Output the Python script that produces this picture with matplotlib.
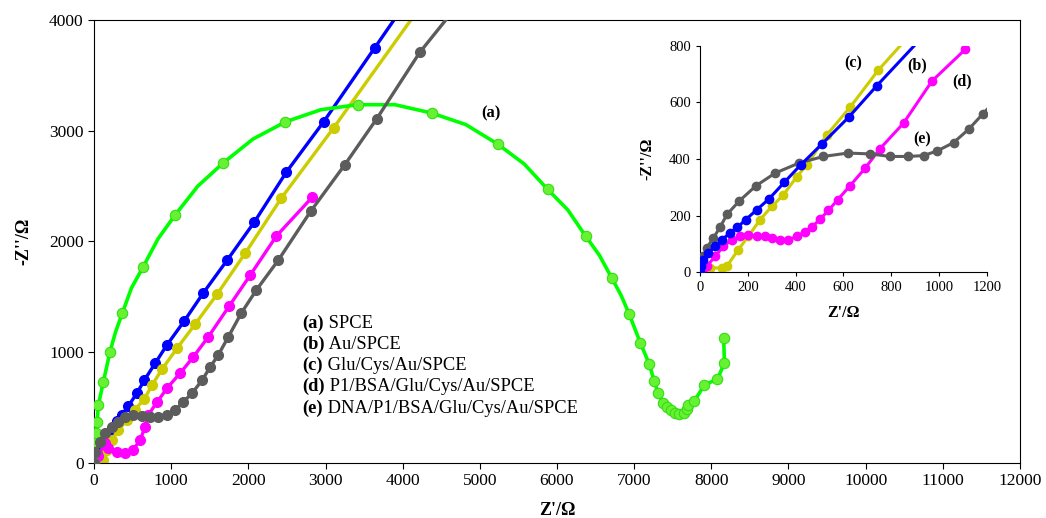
import matplotlib.pyplot as plt

plt.rcParams['font.family'] = ['Liberation Serif', 'DejaVu Serif']

# main plot data (Z' / Ohm, -Z'' / Ohm)
# (a) SPCE: marker points
a_x = [0, 5, 10, 20, 40, 55, 120, 205, 365, 636, 1052, 1675, 2480, 3415, 4375, 5230, 5880,
       6370, 6710, 6935, 7080, 7195, 7260, 7310, 7375, 7430, 7480, 7530, 7580, 7650, 7690,
       7700, 7780, 7910, 8080, 8170, 8160]
a_y = [0, 100, 180, 270, 370, 520, 730, 1000, 1350, 1770, 2240, 2710, 3080, 3235, 3160, 2880,
       2470, 2050, 1670, 1345, 1085, 895, 740, 632, 542, 505, 480, 452, 442, 452, 485,
       522, 560, 704, 758, 903, 1130]
# (a) SPCE: traced line, includes points read between the markers
a_line_x = [0, 5, 10, 20, 40, 55, 120, 205, 280, 365, 485, 636, 830, 1052, 1345, 1675, 2060,
            2480, 2940, 3415, 3900, 4375, 4820, 5230, 5575, 5880, 6140, 6370, 6550, 6710,
            6830, 6935, 7080, 7195, 7260, 7310, 7375, 7430, 7480, 7530, 7580, 7650, 7690,
            7700, 7780, 7910, 8080, 8170, 8160]
a_line_y = [0, 100, 180, 270, 370, 520, 730, 1000, 1185, 1350, 1580, 1770, 2025, 2240, 2500,
            2710, 2925, 3080, 3190, 3235, 3235, 3160, 3055, 2880, 2700, 2470, 2285, 2050,
            1875, 1670, 1515, 1345, 1085, 895, 740, 632, 542, 505, 480, 452, 442, 452, 485,
            522, 560, 704, 758, 903, 1130]

b_x = [0, 10, 30, 70, 120, 180, 240, 300, 360, 445, 555, 653, 792, 944, 1169, 1416, 1727,
       2078, 2494, 2974, 3636, 4026]
b_y = [0, 20, 60, 120, 190, 260, 320, 380, 433, 515, 629, 749, 900, 1065, 1282, 1535, 1833,
       2176, 2628, 3079, 3747, 4140]

c_x = [100, 121, 165, 229, 316, 425, 532, 653, 753, 883, 1078, 1312, 1597, 1961, 2429, 3104,
       4250]
c_y = [0, 27, 117, 208, 298, 388, 482, 580, 704, 849, 1038, 1255, 1526, 1896, 2393, 3025,
       4140]

d_x = [0, 50, 143, 182, 299, 403, 506, 597, 662, 701, 818, 948, 1117, 1286, 1480, 1753, 2026,
       2364, 2831]
d_y = [0, 60, 180, 135, 99, 90, 117, 208, 325, 433, 551, 677, 812, 957, 1138, 1418, 1698,
       2050, 2402]

e_x = [0, 13, 78, 143, 234, 312, 403, 506, 623, 727, 831, 948, 1052, 1156, 1273, 1403, 1506,
       1610, 1740, 1909, 2104, 2390, 2806, 3247, 3662, 4221, 4720]
e_y = [0, 99, 190, 271, 325, 370, 415, 433, 424, 415, 415, 433, 478, 551, 632, 750, 867,
       975, 1138, 1354, 1562, 1833, 2271, 2690, 3106, 3707, 4140]

# inset data (low impedance region)
ib_x = [0, 3, 14, 35, 63, 91, 126, 156, 191, 237, 289, 352, 421, 511, 624, 740, 950]
ib_y = [0, 20, 44, 67, 91, 114, 138, 158, 185, 220, 259, 317, 379, 454, 550, 660, 850]

ic_x = [0, 40, 90, 112, 160, 202, 251, 300, 349, 405, 447, 530, 629, 746, 900]
ic_y = [5, 15, 14, 20, 79, 126, 185, 232, 273, 338, 379, 485, 585, 715, 860]

id_x = [7, 28, 63, 98, 133, 167, 202, 237, 272, 300, 335, 370, 405, 437, 470, 502, 537, 576,
        628, 691, 751, 851, 970, 1109]
id_y = [0, 20, 55, 91, 114, 126, 132, 128, 126, 119, 114, 114, 126, 141, 161, 187, 218, 256,
        306, 368, 435, 527, 676, 788]

ie_x = [0, 3, 14, 28, 56, 84, 114, 165, 234, 314, 412, 516, 618, 712, 795, 868, 935, 993,
        1060, 1123, 1183, 1250]
ie_y = [0, 20, 55, 85, 120, 159, 205, 252, 305, 350, 385, 409, 421, 418, 409, 409, 412, 429,
        458, 505, 560, 620]

legend_lines = [('(a)', ' SPCE'), ('(b)', ' Au/SPCE'), ('(c)', ' Glu/Cys/Au/SPCE'),
                ('(d)', ' P1/BSA/Glu/Cys/Au/SPCE'), ('(e)', ' DNA/P1/BSA/Glu/Cys/Au/SPCE')]

BLUE = '#0000ff'
YELLOW = '#cccc00'
MAGENTA = '#ff00ff'
GREY = '#5c5c5c'
GREEN = '#00ff00'

fig = plt.figure(figsize=(10.46, 5.18), dpi=100)
ax = fig.add_axes([0.0899, 0.1062, 0.8852, 0.8552])

ax.plot(b_x, b_y, color=BLUE, lw=2.4, marker='o', ms=7, zorder=2)
ax.plot(c_x, c_y, color=YELLOW, lw=2.4, marker='o', ms=7, zorder=2)
ax.plot(d_x, d_y, color=MAGENTA, lw=2.4, marker='o', ms=7, zorder=2)
ax.plot(a_line_x, a_line_y, color=GREEN, lw=2.6, zorder=3)
ax.plot(a_x, a_y, ls='none', marker='o', ms=7.5, mfc='#66f233', mec='#33dd11',
        mew=0.8, zorder=3)
ax.plot(e_x, e_y, color=GREY, lw=2.4, marker='o', ms=7, zorder=4)

ax.set_xlim(0, 12000)
ax.set_ylim(0, 4000)
ax.set_xticks(range(0, 12001, 1000))
ax.set_yticks(range(0, 4001, 1000))
ax.tick_params(labelsize=12.5, direction='out', length=4)
ax.set_xlabel("Z'/\u03a9", fontsize=13, fontweight='bold', labelpad=9)
ax.set_ylabel("-Z''/\u03a9", fontsize=13, fontweight='bold', labelpad=12)

ax.text(5140, 3160, '(a)', fontsize=12, fontweight='bold', ha='center', va='center')

# legend block written as text
for i, (tag, name) in enumerate(legend_lines):
    y = 1264 - i * 192
    t = ax.text(2700, y, tag, fontsize=13.3, fontweight='bold', va='center')
    ax.annotate(name, xycoords=t, xy=(1, 0.5), va='center', fontsize=13.3)

# inset
ins = fig.add_axes([0.6692, 0.4749, 0.2744, 0.4363])
ins.plot(ic_x, ic_y, color=YELLOW, lw=2.2, marker='o', ms=6, zorder=2)
ins.plot(id_x, id_y, color=MAGENTA, lw=2.2, marker='o', ms=6, zorder=2)
ins.plot(ie_x, ie_y, color=GREY, lw=2.2, marker='o', ms=6, zorder=3)
ins.plot(ib_x, ib_y, color=BLUE, lw=2.2, marker='o', ms=6, zorder=4)
ins.set_xlim(0, 1200)
ins.set_ylim(0, 800)
ins.set_xticks(range(0, 1201, 200))
ins.set_yticks(range(0, 801, 200))
ins.spines['top'].set_visible(False)
ins.spines['right'].set_visible(False)
ins.tick_params(labelsize=10.5, direction='out', length=3)
ins.set_xlabel("Z'/\u03a9", fontsize=11.5, fontweight='bold', labelpad=8)
ins.set_ylabel("-Z''/\u03a9", fontsize=11.5, fontweight='bold', labelpad=10)
ins.text(640, 740, '(c)', fontsize=11.5, fontweight='bold', ha='center', va='center')
ins.text(907, 733, '(b)', fontsize=11.5, fontweight='bold', ha='center', va='center')
ins.text(1095, 676, '(d)', fontsize=11.5, fontweight='bold', ha='center', va='center')
ins.text(928, 471, '(e)', fontsize=11.5, fontweight='bold', ha='center', va='center')

fig.savefig('out.png', dpi=100)
